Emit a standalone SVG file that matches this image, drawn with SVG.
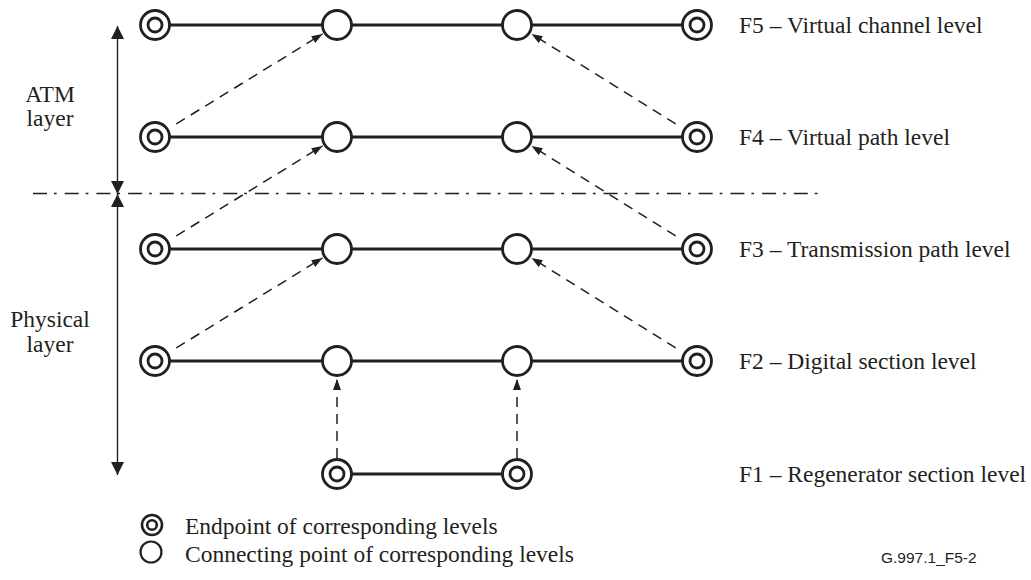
<svg xmlns="http://www.w3.org/2000/svg" width="1031" height="580" viewBox="0 0 1031 580">
<defs>
<style>
.t{font-family:"Liberation Serif","Times New Roman",serif;font-size:23.5px;fill:#231f20}
.c{font-family:"Liberation Sans",Arial,sans-serif;font-size:15.5px;fill:#231f20}
.solid{stroke:#231f20;stroke-width:2.8;fill:none}
.dash{stroke:#231f20;stroke-width:1.5;fill:none;stroke-dasharray:10 7;marker-end:url(#ah)}
.ring{stroke:#231f20;stroke-width:2.8;fill:#fff}
.axis{stroke:#231f20;stroke-width:1.4;fill:none;marker-start:url(#big);marker-end:url(#big)}
</style>
<marker id="ah" markerUnits="userSpaceOnUse" markerWidth="12" markerHeight="10" refX="11" refY="4" orient="auto">
<path d="M0,0 L11,4 L0,8 z" fill="#231f20"/>
</marker>
<marker id="big" markerUnits="userSpaceOnUse" markerWidth="14" markerHeight="14" refX="13" refY="6.5" orient="auto-start-reverse">
<path d="M0,0 L13,6.5 L0,13 z" fill="#231f20"/>
</marker>
<g id="ep"><circle r="14.5" class="ring"/><circle r="7" class="ring"/></g>
<g id="cp"><circle r="14.5" class="ring"/></g>
</defs>

<g id="connectors">
<line x1="155" y1="25" x2="697" y2="25" class="solid"/>
<line x1="155" y1="137" x2="697" y2="137" class="solid"/>
<line x1="155" y1="249" x2="697" y2="249" class="solid"/>
<line x1="155" y1="361" x2="697" y2="361" class="solid"/>
<line x1="337" y1="474" x2="517" y2="474" class="solid"/>
<line x1="176.3" y1="123.9" x2="322.5" y2="33.9" class="dash"/>
<line x1="176.3" y1="235.9" x2="322.5" y2="145.9" class="dash"/>
<line x1="176.3" y1="347.9" x2="322.5" y2="257.9" class="dash"/>
<line x1="675.7" y1="123.9" x2="531.5" y2="33.9" class="dash"/>
<line x1="675.7" y1="235.9" x2="531.5" y2="145.9" class="dash"/>
<line x1="675.7" y1="347.9" x2="531.5" y2="257.9" class="dash"/>
<line x1="337" y1="458" x2="337" y2="379" class="dash"/>
<line x1="517" y1="458" x2="517" y2="379" class="dash"/>
<line x1="117.5" y1="26" x2="117.5" y2="194" class="axis"/>
<line x1="117.5" y1="194" x2="117.5" y2="475" class="axis"/>
<line x1="33" y1="193.5" x2="818" y2="193.5" stroke="#231f20" stroke-width="1.3" stroke-dasharray="14 7 2.7 8"/>
</g>

<g id="F5-left"><use href="#ep" x="155" y="25"/></g>
<g id="F5-c1"><use href="#cp" x="337" y="25"/></g>
<g id="F5-c2"><use href="#cp" x="517" y="25"/></g>
<g id="F5-right"><use href="#ep" x="697" y="25"/></g>
<g id="F4-left"><use href="#ep" x="155" y="137"/></g>
<g id="F4-c1"><use href="#cp" x="337" y="137"/></g>
<g id="F4-c2"><use href="#cp" x="517" y="137"/></g>
<g id="F4-right"><use href="#ep" x="697" y="137"/></g>
<g id="F3-left"><use href="#ep" x="155" y="249"/></g>
<g id="F3-c1"><use href="#cp" x="337" y="249"/></g>
<g id="F3-c2"><use href="#cp" x="517" y="249"/></g>
<g id="F3-right"><use href="#ep" x="697" y="249"/></g>
<g id="F2-left"><use href="#ep" x="155" y="361"/></g>
<g id="F2-c1"><use href="#cp" x="337" y="361"/></g>
<g id="F2-c2"><use href="#cp" x="517" y="361"/></g>
<g id="F2-right"><use href="#ep" x="697" y="361"/></g>
<g id="F1-left"><use href="#ep" x="337" y="474"/></g>
<g id="F1-right"><use href="#ep" x="517" y="474"/></g>

<g id="labels">
<text class="t" x="739" y="33">F5 – Virtual channel level</text>
<text class="t" x="739" y="145">F4 – Virtual path level</text>
<text class="t" x="739" y="257">F3 – Transmission path level</text>
<text class="t" x="739" y="369">F2 – Digital section level</text>
<text class="t" x="739" y="482">F1 – Regenerator section level</text>
<text class="t" x="50" y="102" text-anchor="middle">ATM</text>
<text class="t" x="50" y="126" text-anchor="middle">layer</text>
<text class="t" x="50" y="327" text-anchor="middle">Physical</text>
<text class="t" x="50" y="352" text-anchor="middle">layer</text>
</g>

<g id="legend">
<circle cx="152" cy="525" r="10" stroke="#231f20" stroke-width="2.6" fill="#fff"/>
<circle cx="152" cy="525" r="4.8" stroke="#231f20" stroke-width="2.6" fill="#fff"/>
<circle cx="151" cy="552" r="10.5" stroke="#231f20" stroke-width="2.2" fill="#fff"/>
<text class="t" x="185" y="534">Endpoint of corresponding levels</text>
<text class="t" x="185" y="562">Connecting point of corresponding levels</text>
</g>
<text class="c" x="881" y="563">G.997.1_F5-2</text>
</svg>
